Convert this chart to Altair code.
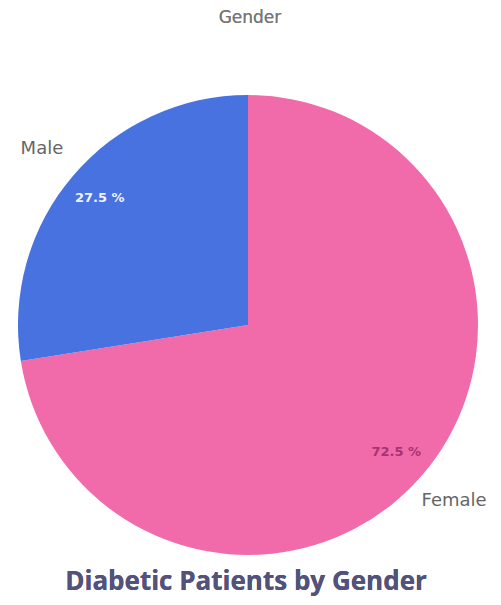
import altair as alt
import pandas as pd

genders = ["Female", "Male"]
percents = [72.5, 27.5]
orders = [1, 2]
pct_labels = ["72.5 %", "27.5 %"]
colors = ["#F16BAA", "#4772E0"]
pct_colors = ["#A8346F", "#EEF3FF"]

df = pd.DataFrame({"gender": genders, "pct": percents, "ord": orders,
                   "pct_label": pct_labels, "pct_color": pct_colors})

CX, CY = 240, 317

base = alt.Chart(df).encode(
    theta=alt.Theta("pct:Q", stack=True),
    order=alt.Order("ord:Q"),
)

arcs = base.mark_arc(outerRadius=230, stroke=None).encode(
    color=alt.Color("gender:N", scale=alt.Scale(domain=genders, range=colors), legend=None),
    x=alt.value(CX), y=alt.value(CY),
)

inner = base.mark_text(radius=195, fontSize=13, fontWeight="bold", font="DejaVu Sans").encode(
    text="pct_label:N",
    color=alt.Color("pct_color:N", scale=None),
    x=alt.value(CX), y=alt.value(CY),
)

outer = base.mark_text(radius=271, fontSize=18, color="#666666", font="DejaVu Sans").encode(
    text="gender:N",
    x=alt.value(CX), y=alt.value(CY),
)

top_title = alt.Chart(df).mark_text(text="Gender", fontSize=17, color="#777777",
                                    font="DejaVu Sans", baseline="top").encode(
    x=alt.value(242), y=alt.value(2))

bottom_title = alt.Chart(df).mark_text(text="Diabetic Patients by Gender", fontSize=26,
                                       fontWeight="bold", color="#52527A",
                                       font="Open Sans").encode(
    x=alt.value(238), y=alt.value(574))

chart = alt.layer(arcs, inner, outer, top_title, bottom_title).properties(
    width=485, height=589,
    autosize=alt.AutoSizeParams(type="fit", contains="padding"),
    padding=0,
).configure_view(stroke=None)

chart.save("out.html", embed_options={"renderer": "svg", "actions": False})
